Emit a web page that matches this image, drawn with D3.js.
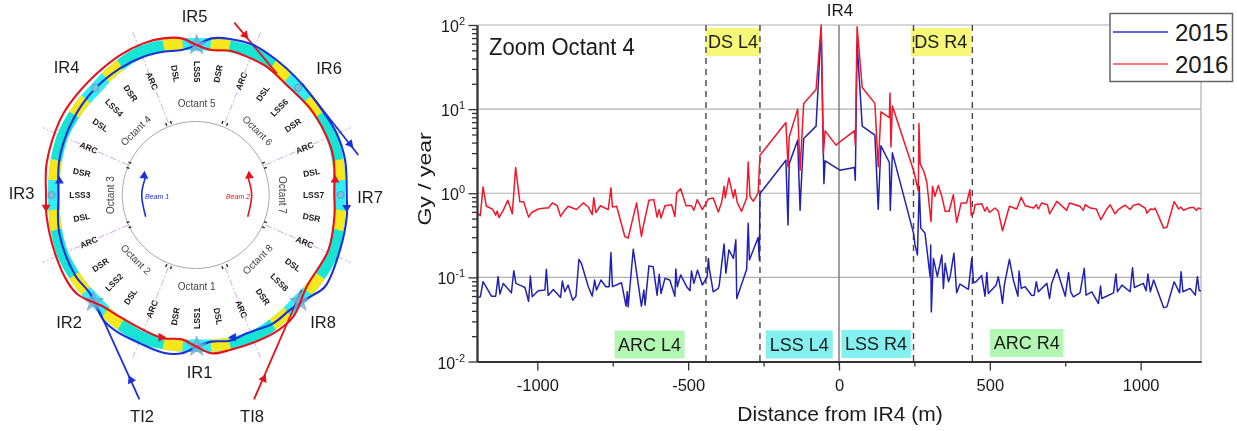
<!DOCTYPE html>
<html>
<head>
<meta charset="utf-8">
<script src="https://cdn.jsdelivr.net/npm/d3@7"></script>
<style>
  html, body { margin: 0; padding: 0; background: #fff; }
  svg { display: block; filter: blur(0.45px); }
  text { font-family: "Liberation Sans", Arial, sans-serif; fill: #1a1a1a; }
</style>
</head>
<body>
<div id="chart"></div>
<script>
// dose along octant 4, distance from IR4 (m) and Gy / year
const dist2015 = [-1200,-1189,-1180,-1152,-1138,-1130,-1124,-1113,-1086,-1078,-1071,-1047,-1041,-1029,-1023,-1017,-997,-975,-970,-964,-947,-923,-917,-909,-898,-883,-872,-862,-854,-831,-818,-810,-804,-789,-773,-762,-756,-751,-721,-706,-702,-699,-682,-655,-647,-643,-630,-616,-603,-596,-590,-577,-561,-544,-541,-536,-525,-505,-494,-489,-481,-469,-453,-437,-433,-430,-417,-400,-397,-381,-375,-365,-350,-342,-339,-306,-301,-297,-268,-264,-262,-176,-169,-165,-137,-129,-126,-117,-76,-59,-50,-46,3,51,54,60,77,119,130,139,167,170,177,247,252,260,266,271,285,302,304,306,313,326,341,346,352,363,368,381,390,401,429,440,446,454,473,484,490,495,521,528,536,542,548,565,578,593,597,604,617,639,647,654,661,689,698,705,722,750,761,768,777,799,813,819,838,860,867,871,910,918,923,938,965,973,979,1009,1018,1024,1032,1043,1076,1087,1111,1129,1134,1140,1164,1181,1188,1194,1200];
const gy2015 = [.057,.0588,.0888,.0598,.0598,.102,.0632,.0848,.0655,.12,.0848,.0775,.0759,.052,.104,.0588,.0693,.0706,.125,.061,.0719,.0577,.0904,.0674,.081,.0536,.0598,.164,.147,.0775,.0598,.093,.0706,.093,.0775,.0775,.197,.0775,.0864,.0454,.0674,.0446,.216,.0454,.0706,.0467,.137,.134,.0615,.109,.0644,.0973,.093,.0598,.126,.0775,.107,.0775,.0693,.119,.0848,.122,.081,.102,.168,.128,.0674,.0739,.081,.25,.112,.212,.168,.28,.056,.125,.44,.161,.298,.161,.99,2.47,.42,2.25,4.28,.626,1.11,4.48,6.28,91,1.3,2.43,1.88,2.02,1.43,60.5,6.28,4.9,.645,3.66,2.32,.626,3.02,.336,.243,.185,1.2,.385,.336,.102,.243,.0389,.168,.102,.185,.0739,.147,.0888,.1,.194,.0655,.0832,.0719,.168,.0864,.0888,.105,.0598,.114,.0644,.081,.102,.0706,.0489,.081,.164,.093,.0598,.119,.0739,.0775,.061,.0615,.0888,.0674,.0848,.0561,.0848,.125,.0598,.114,.0674,.0588,.0655,.128,.0615,.0674,.0489,.0788,.0561,.0655,.11,.0674,.081,.0674,.13,.0759,.0848,.0693,.11,.0674,.093,.0437,.0446,.0888,.0655,.117,.0674,.0739,.0615,.102,.0693,.0693];

const dist2016 = [-1200,-1189,-1180,-1169,-1149,-1138,-1133,-1127,-1113,-1098,-1083,-1072,-1058,-1045,-1029,-1019,-997,-975,-964,-950,-934,-923,-912,-898,-870,-848,-831,-818,-813,-806,-791,-765,-756,-751,-737,-710,-699,-671,-655,-649,-630,-614,-603,-596,-590,-577,-555,-544,-538,-525,-507,-489,-481,-470,-453,-433,-417,-400,-389,-381,-377,-365,-350,-345,-337,-323,-306,-301,-295,-284,-268,-262,-176,-169,-165,-137,-129,-117,-76,-59,-52,-46,-10,3,51,54,60,77,119,130,139,167,169,172,177,247,263,265,269,282,291,305,310,318,329,341,352,365,379,390,405,423,434,438,446,451,473,484,490,499,517,528,542,565,589,604,617,645,654,661,672,691,698,705,722,755,764,799,810,816,833,853,868,888,899,915,926,938,949,965,976,993,1015,1021,1032,1043,1048,1076,1087,1111,1126,1133,1142,1159,1175,1184,1192,1200];
const gy2016 = [.59,.54,1.19,.7,.65,.55,.615,.515,.625,.825,.57,2.03,.79,.79,.52,.59,.65,.667,.667,.767,.71,.53,.61,.7,.64,.767,.686,.556,.887,.59,.71,.64,1.16,.686,.7,.306,.293,.767,.306,.403,.825,.84,.52,.64,.507,.71,.73,.53,1.01,1.13,.71,.71,.626,.84,.64,.855,.88,.6,.78,1.21,.88,1.52,.88,1.11,.767,.61,.88,2.35,.92,.8,1.01,2.83,6.94,2.06,4.69,10,1.88,11.7,17.1,100,2.97,5.52,3.73,4.08,5.52,3.73,95,18.1,11.7,2.06,9.3,7.95,15.6,3.56,10.9,1.88,1.07,6.76,2.25,1.79,1.36,.46,1.21,.92,1.24,.92,.61,.61,.96,.45,.767,.767,1.11,.55,.58,.73,.75,.61,.686,.59,.667,.61,.358,.7,.65,.895,.71,.667,.73,.65,.767,.73,.57,.626,.8,.626,.767,.7,.626,.73,.667,.65,.485,.65,.73,.57,.64,.686,.72,.64,.72,.745,.667,.58,.65,.64,.667,.385,.395,.795,.65,.686,.626,.667,.68,.626,.667,.65];

const yMajor = [0.01, 0.1, 1, 10, 100];
const xMajor = [-1000, -500, 0, 500, 1000];
const xMinor = [-750, -250, 250, 750];
const sectionEdges = [-441, -262, 247, 442];
const years = ['2015', '2016'];

// sector names round the ring, clockwise from just left of IR5
const sectorNames = ['DSL','LSS5','DSR','ARC','DSL','LSS6','DSR','ARC','DSL','LSS7','DSR','ARC','DSL','LSS8','DSR','ARC','DSL','LSS1','DSR','ARC','DSL','LSS2','DSR','ARC','DSL','LSS3','DSR','ARC','DSL','LSS4','DSR','ARC'];
const sectorAngles = [349.5,0,10.5,22.5,34.5,45,55.5,67.5,79.5,90,100.5,112.5,124.5,135,145.5,157.5,169.5,180,190.5,202.5,214.5,225,235.5,247.5,259.5,270,280.5,292.5,304.5,315,325.5,337.5];
const irAngles = [0, 45, 90, 135, 180, 225, 270, 315];
const octantNames = ['Octant 5','Octant 6','Octant 7','Octant 8','Octant 1','Octant 2','Octant 3','Octant 4'];
const octantAngles = [0, 45, 90, 135, 180, 225, 270, 315];
const spokeAngles = [22.5, 67.5, 112.5, 157.5, 202.5, 247.5, 292.5, 337.5];

// ring centre line: it bulges out a bit along the arcs
const ringAngle = [0,22.5,45,67.5,90,112.5,135,157.5,180,202.5,225,247.5,270,292.5,315,337.5,360];
const ringRadius = [1,1.025,1,1.027,1,1.03,1,1.022,1,1.022,1,1.02,1,1.02,1,1.03,1];

// beam orbits as angle (deg, clockwise from top) and radius (1 = ring centre line)
const beam1Angle = [353.8,0,5.8,12.7,21.8,32,42.2,55,67.3,77.4,90.6,97.8,110,124,130.4,139.4,147.8,159,166.4,173.9,180,185.7,192.6,202,211.7,218.2,229,238,255.2,270,283.6,295.6,306.5,314.8,327.4,337.9,346.2];
const beam1Radius = [.969,.997,1.046,1.063,1.073,1.058,1.046,1.043,1.064,1.067,1.053,1.063,1.07,1.087,1.044,1.006,1.008,.984,.996,.98,1.008,1.057,1.074,1.063,1.067,1.058,.994,1.006,.997,.971,.992,1,1.004,1.005,.999,.992,.98];
const beam2Angle = [354.2,0,6.2,13.7,20.9,29.9,40.8,54.1,65.5,75.1,90,98.5,111.6,128.3,140,149.7,167.2,174.3,180,186.2,193.8,202.6,215.1,221.4,231.3,236.9,248.7,262.2,270,281.3,297.4,304.4,318.2,330,339.6,347.3];
const beam2Radius = [1.046,.997,.969,.987,.984,.984,.966,.982,.99,.992,.966,.977,.994,.983,1.055,1.065,1.056,1.057,1.008,.965,.98,.972,.975,.99,1.063,1.075,1.067,1.063,1.057,1.074,1.081,1.078,1.069,1.074,1.075,1.067];

const transferLines = [
  {color: 'blue', pts: [[196.5, 1.416], [225.2, 1.006]]},
  {color: 'red', pts: [[163.5, 1.416], [130.6, .97]]},
  {color: 'red', pts: [[13, 1.175], [34.8, .984]]},
  {color: 'blue', pts: [[76.8, 1.165], [44.8, 1.046]]}
];
const blueArrows = [[275.5,.968,0],[94.5,1.056,180],[164.8,.98,270],[72.5,1.128,140],[200.6,1.313,-25]];
const redArrows = [[84.1,.976,0],[265.6,1.06,180],[194.8,.978,90],[17.7,1.116,140],[159,1.309,25]];
const starSpots = [[0,.997],[180,1.008],[225.6,1.014],[134.4,1.014]];
const circleSpots = [[315,1.008],[45,1.008],[270,1.018],[90,1.01]];
const beam1Arc = [[248,.386],[270,.386],[289,.378]];
const beam2Arc = [[112,.386],[90,.386],[71,.378]];

const COL_2015 = '#2222b0', COL_2016 = '#f0182c';
const RING_BLUE = '#1a30d8', RING_RED = '#e8101c';

const width = 1237, height = 431;
const svg = d3.select('#chart').append('svg').attr('width', width).attr('height', height);

// ---------- ring schematic ----------
const cx = 196.7, cy = 195;
const xR = d3.scaleLinear().domain([-1, 1]).range([cx - 142.5, cx + 142.5]);
const yR = d3.scaleLinear().domain([-1, 1]).range([cy + 150.5, cy - 150.5]);
const rad = d => d * Math.PI / 180;
const polX = (a, r) => xR(r * Math.sin(rad(a)));
const polY = (a, r) => yR(r * Math.cos(rad(a)));
const polar = d3.line().x(d => polX(d[0], d[1])).y(d => polY(d[0], d[1]));
const norm = a => (a + 360) % 360;
const centreR = d3.scaleLinear().domain(ringAngle).range(ringRadius);

const ring = svg.append('g');

ring.selectAll('.spoke').data(spokeAngles).join('line')
  .attr('x1', d => polX(d, .52)).attr('y1', d => polY(d, .52))
  .attr('x2', d => polX(d, 1.17)).attr('y2', d => polY(d, 1.17))
  .attr('stroke', '#d8a8e8').attr('stroke-width', 1).attr('stroke-dasharray', '7 2 2 2');

ring.append('circle').attr('cx', cx - 1).attr('cy', cy).attr('r', 73.5)
  .attr('fill', 'none').attr('stroke', '#a8a8a8').attr('stroke-width', 1);

ring.selectAll('.tickmark').data(spokeAngles.flatMap(a => [a - 2, a + 2])).join('line')
  .attr('x1', d => polX(d, .505)).attr('y1', d => polY(d, .505))
  .attr('x2', d => polX(d, .525)).attr('y2', d => polY(d, .525))
  .attr('stroke', '#222').attr('stroke-width', 1.4);

// band between inner and outer edge, sampled along the centre line
const bandArea = d3.area()
  .x0(a => polX(a, centreR(norm(a)) - .04)).y0(a => polY(a, centreR(norm(a)) - .04))
  .x1(a => polX(a, centreR(norm(a)) + .04)).y1(a => polY(a, centreR(norm(a)) + .04));
const bandPiece = (from, to) => bandArea(d3.range(from, to, 1).concat(to));

ring.append('path').attr('d', bandPiece(0, 360)).attr('fill', '#18e4d4');
ring.selectAll('.lss').data(irAngles).join('path')
  .attr('d', a => bandPiece(a - 5.6, a + 5.6)).attr('fill', '#30eef4');
ring.selectAll('.ds').data(irAngles.flatMap(a => [[a - 13.2, a - 5.6], [a + 5.6, a + 13.2]])).join('path')
  .attr('d', d => bandPiece(d[0], d[1])).attr('fill', '#f6e81c');

ring.selectAll('.sector').data(sectorNames).join('text')
  .attr('transform', (d, i) => {
    const a = sectorAngles[i];
    const rot = a > 0 && a < 180 ? a - 90 : a - 270;
    return `translate(${polX(a, .82)},${polY(a, .82)}) rotate(${rot})`;
  })
  .attr('text-anchor', 'middle').attr('dy', '0.35em')
  .attr('font-size', 8.5).attr('font-weight', 'bold')
  .text(d => d);

ring.selectAll('.octant').data(octantNames).join('text')
  .attr('transform', (d, i) => {
    const a = octantAngles[i];
    const rot = a === 90 ? 90 : a === 270 ? -90 : a === 45 || a === 225 ? 45 : a === 135 || a === 315 ? -45 : 0;
    return `translate(${polX(a, .605)},${polY(a, .605)}) rotate(${rot})`;
  })
  .attr('text-anchor', 'middle').attr('dy', '0.35em')
  .attr('font-size', 10).style('fill', '#444')
  .text(d => d);

// injection and dump lines
ring.selectAll('.transfer').data(transferLines).join('path')
  .attr('d', d => polar(d.pts))
  .attr('fill', 'none').attr('stroke-width', 1.8)
  .attr('stroke', d => d.color === 'blue' ? RING_BLUE : RING_RED);

// orbits
const orbit = d3.line().x(d => polX(d[0], d[1])).y(d => polY(d[0], d[1])).curve(d3.curveCatmullRomClosed);
ring.append('path').attr('d', orbit(beam1Angle.map((a, i) => [a, beam1Radius[i]])))
  .attr('fill', 'none').attr('stroke', RING_BLUE).attr('stroke-width', 2.1);
ring.selectAll('.star').data(starSpots).join('path')
  .attr('d', d3.symbol(d3.symbolStar, 125))
  .attr('transform', d => `translate(${polX(d[0], d[1])},${polY(d[0], d[1])})`)
  .attr('fill', '#78aed8').attr('fill-opacity', .8).attr('stroke', '#5f94c4').attr('stroke-width', .6);
ring.append('path').attr('d', orbit(beam2Angle.map((a, i) => [a, beam2Radius[i]])))
  .attr('fill', 'none').attr('stroke', RING_RED).attr('stroke-width', 2.1);

ring.selectAll('.spot').data(circleSpots).join('circle')
  .attr('cx', d => polX(d[0], d[1])).attr('cy', d => polY(d[0], d[1])).attr('r', 3.6)
  .attr('fill', '#6cc6de').attr('stroke', '#5c94b8').attr('stroke-width', .8);

const arrowHead = d3.symbol(d3.symbolTriangle, 34);
const drawArrows = (data, color) => ring.selectAll(null).data(data).join('path')
  .attr('d', arrowHead)
  .attr('transform', d => `translate(${polX(d[0], d[1])},${polY(d[0], d[1])}) rotate(${d[2]})`)
  .attr('fill', color);
drawArrows(blueArrows, RING_BLUE);
drawArrows(redArrows, RING_RED);

// beam direction arrows inside the ring
const bend = d3.line().x(d => polX(d[0], d[1])).y(d => polY(d[0], d[1])).curve(d3.curveNatural);
ring.append('path').attr('d', bend(beam1Arc)).attr('fill', 'none').attr('stroke', RING_BLUE).attr('stroke-width', 1.6);
ring.append('path').attr('d', bend(beam2Arc)).attr('fill', 'none').attr('stroke', RING_RED).attr('stroke-width', 1.6);
drawArrows([[289, .39, 5]], RING_BLUE);
drawArrows([[71, .39, -5]], RING_RED);
ring.append('text').attr('x', 157).attr('y', 199).attr('text-anchor', 'middle')
  .attr('font-size', 7).attr('font-style', 'italic').style('fill', RING_BLUE).text('Beam 1');
ring.append('text').attr('x', 238).attr('y', 199).attr('text-anchor', 'middle')
  .attr('font-size', 7).attr('font-style', 'italic').style('fill', RING_RED).text('Beam 2');

const ringLabels = [
  ['IR5', 194.5, 22], ['IR6', 329, 74], ['IR7', 370, 203], ['IR8', 323, 328],
  ['IR1', 199.5, 378], ['IR2', 69, 328], ['IR3', 21.5, 199], ['IR4', 66.5, 73],
  ['TI2', 142, 422], ['TI8', 252, 422]
];
ring.selectAll('.irlabel').data(ringLabels).join('text')
  .attr('x', d => d[1]).attr('y', d => d[2]).attr('text-anchor', 'middle')
  .attr('font-size', 16.5).text(d => d[0]);

// ---------- dose plot ----------
const x = d3.scaleLinear().domain([-1200, 1200]).range([477, 1201]);
const y = d3.scaleLog().domain([0.01, 100]).range([361.5, 25]);
const plot = svg.append('g');

plot.selectAll('.grid').data(yMajor.slice(1)).join('line')
  .attr('x1', x(-1200)).attr('x2', x(1200)).attr('y1', y).attr('y2', y)
  .attr('stroke', '#b0b0b0').attr('stroke-width', 1.2);
plot.append('line').attr('x1', x(1200)).attr('x2', x(1200)).attr('y1', y(100)).attr('y2', y(0.01))
  .attr('stroke', '#b0b0b0').attr('stroke-width', 1.2);
plot.append('line').attr('x1', x(0)).attr('x2', x(0)).attr('y1', y(100)).attr('y2', y(0.01) + 4)
  .attr('stroke', '#777').attr('stroke-width', 1.4);

const sectionBoxes = [
  {label: 'DS L4', from: -441, to: -262, fill: '#f8f878', top: 28, h: 28},
  {label: 'DS R4', from: 238, to: 437, fill: '#f8f878', top: 28, h: 28},
  {label: 'ARC L4', from: -744, to: -512, fill: '#b2f8b2', top: 330.5, h: 28},
  {label: 'LSS L4', from: -242, to: -21, fill: '#84f0f0', top: 330.5, h: 28},
  {label: 'LSS R4', from: 8, to: 238, fill: '#84f0f0', top: 330, h: 28},
  {label: 'ARC R4', from: 501, to: 744, fill: '#b2f8b2', top: 329, h: 28}
];
plot.selectAll('.sectionbox').data(sectionBoxes).join('rect')
  .attr('x', d => x(d.from)).attr('width', d => x(d.to) - x(d.from))
  .attr('y', d => d.top).attr('height', d => d.h).attr('fill', d => d.fill);

plot.selectAll('.edge').data(sectionEdges).join('line')
  .attr('x1', x).attr('x2', x).attr('y1', y(100)).attr('y2', y(0.01))
  .attr('stroke', '#444').attr('stroke-width', 1.4).attr('stroke-dasharray', '6 5');

plot.selectAll('.sectionlabel').data(sectionBoxes).join('text')
  .attr('x', d => (x(d.from) + x(d.to)) / 2).attr('y', d => d.top + 20)
  .attr('text-anchor', 'middle').attr('font-size', 18)
  .text(d => d.label);

const doseLine = d3.line().x(d => x(d[0])).y(d => y(d[1]));
plot.append('path').datum(dist2015.map((d, i) => [d, gy2015[i]])).attr('d', doseLine)
  .attr('fill', 'none').attr('stroke', COL_2015).attr('stroke-width', 1.5).attr('stroke-linejoin', 'round');
plot.append('path').datum(dist2016.map((d, i) => [d, gy2016[i]])).attr('d', doseLine)
  .attr('fill', 'none').attr('stroke', COL_2016).attr('stroke-width', 1.5).attr('stroke-linejoin', 'round');

// axes
const yMinor = yMajor.slice(0, -1).flatMap(v => d3.range(2, 10).map(m => v * m));
const styleAxis = g => {
  g.select('.domain').attr('stroke', '#333').attr('stroke-width', 1.8);
  g.selectAll('.tick line').attr('stroke', '#333').attr('stroke-width', 1.3);
};
const xAxisG = plot.append('g').attr('transform', `translate(0,${y(0.01)})`);
xAxisG.call(d3.axisBottom(x).tickValues(xMajor).tickSize(9).tickSizeOuter(0).tickPadding(8.3).tickFormat(d => String(d)))
  .call(styleAxis);
xAxisG.selectAll('.tick text').attr('font-size', 16.5).attr('font-family', '"Liberation Sans", Arial, sans-serif').style('fill', '#1a1a1a');
plot.append('g').attr('transform', `translate(0,${y(0.01)})`)
  .call(d3.axisBottom(x).tickValues(xMinor).tickSize(5).tickSizeOuter(0).tickFormat(''))
  .call(styleAxis);

const yAxisG = plot.append('g').attr('transform', `translate(${x(-1200)},0)`);
yAxisG.call(d3.axisLeft(y).tickValues(yMajor).tickSize(8.5).tickSizeOuter(0).tickFormat(''))
  .call(styleAxis);
plot.append('g').attr('transform', `translate(${x(-1200)},0)`)
  .call(d3.axisLeft(y).tickValues(yMinor).tickSize(5).tickSizeOuter(0).tickFormat(''))
  .call(styleAxis);

const yLabel = plot.selectAll('.ylab').data(yMajor).join('text')
  .attr('x', 465).attr('y', d => y(d) + 7).attr('text-anchor', 'end').attr('font-size', 16);
yLabel.append('tspan').text('10');
yLabel.append('tspan').attr('dy', -7).attr('font-size', 11).text(d => Math.round(Math.log10(d)));

plot.append('text').attr('transform', 'translate(431,179) rotate(-90) scale(1,.8)').attr('text-anchor', 'middle')
  .attr('font-size', 23).text('Gy / year');
plot.append('text').attr('x', 840).attr('y', 421).attr('text-anchor', 'middle')
  .attr('font-size', 21).text('Distance from IR4 (m)');
plot.append('text').attr('x', 840).attr('y', 15.5).attr('text-anchor', 'middle')
  .attr('font-size', 17).text('IR4');
plot.append('text').attr('transform', 'translate(489,55) scale(.9,1)').attr('font-size', 24.5).text('Zoom Octant 4');

// legend
const legend = plot.append('g');
legend.append('rect').attr('x', 1110).attr('y', 13.5).attr('width', 122.5).attr('height', 68)
  .attr('fill', '#fff').attr('stroke', '#666').attr('stroke-width', 1.5);
legend.selectAll('.legline').data(years).join('line')
  .attr('x1', 1113).attr('x2', 1168)
  .attr('y1', (d, i) => 32 + i * 32).attr('y2', (d, i) => 32 + i * 32)
  .attr('stroke', (d, i) => i ? '#f84848' : '#3030c8').attr('stroke-width', 1.5);
legend.selectAll('.legtext').data(years).join('text')
  .attr('x', 1175).attr('y', (d, i) => 41 + i * 32).attr('font-size', 24).text(d => d);
</script>
</body>
</html>
